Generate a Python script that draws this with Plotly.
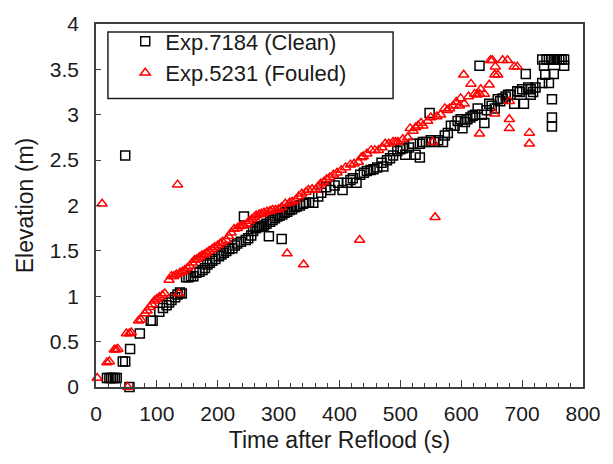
import plotly.graph_objects as go

# Exp.7184 (Clean) - time after reflood (s) and elevation (m)
clean_time = [
    18, 22, 25, 28, 31, 34, 55, 44, 48, 56, 48, 72, 90, 93,
    104, 110, 116, 120, 124, 130, 134, 138, 141,
    148, 152, 156, 160, 165, 170, 175, 179, 183, 187, 191, 196, 202, 206, 210, 214,
    219, 224, 228, 232, 238, 243, 246, 250, 255, 258, 262, 265, 268, 270, 273, 276,
    280, 284, 286, 290, 294, 298, 302, 305, 306, 310, 314, 318, 322, 326, 330, 335,
    340, 345, 350, 357, 365, 370, 378, 385, 392, 398, 405, 412, 418, 422, 428, 434,
    440, 445, 451, 456, 462, 469, 472, 478, 483, 488, 495, 500, 504, 508, 514, 521,
    525, 532, 532, 537, 542, 548, 550, 556, 562, 570, 573, 578, 583, 589, 594, 599,
    602, 606, 610, 615, 619, 623, 627, 630, 634, 638, 642, 646, 650, 655, 660, 664,
    668, 673, 677, 681, 687, 692, 696, 700, 703, 706, 710, 714, 714, 718, 722, 733,
    738, 744, 752, 733, 736, 740, 744, 748, 752, 757, 761, 765, 769, 769, 749, 749, 749,
]
clean_elev = [
    0.10, 0.10, 0.10, 0.10, 0.10, 0.10, 0.00, 0.28, 0.28, 0.42, 2.55, 0.59, 0.73, 0.73,
    0.83, 0.87, 0.90, 0.93, 0.96, 0.99, 1.02, 1.04, 1.03,
    1.21, 1.21, 1.22, 1.22, 1.26, 1.27, 1.29, 1.31, 1.35, 1.37, 1.39, 1.41, 1.44, 1.46, 1.48, 1.50,
    1.52, 1.53, 1.56, 1.58, 1.60, 1.88, 1.62, 1.64, 1.67, 1.72, 1.75, 1.76, 1.77, 1.77, 1.77, 1.78,
    1.80, 1.66, 1.82, 1.84, 1.86, 1.88, 1.89, 1.63, 1.90, 1.92, 1.93, 1.95, 1.96, 1.98, 1.99, 2.00,
    2.02, 2.03, 2.03, 2.03, 2.10, 2.14, 2.20, 2.17, 2.22, 2.25, 2.17, 2.25, 2.28, 2.30, 2.25, 2.34,
    2.36, 2.38, 2.39, 2.40, 2.42, 2.47, 2.43, 2.50, 2.52, 2.55, 2.60, 2.62, 2.63, 2.56, 2.64, 2.68,
    2.56, 2.53, 2.68, 2.70, 2.70, 3.02, 2.72, 2.70, 2.72, 2.70, 2.77, 2.80, 2.88, 2.88, 2.93, 2.95,
    2.85, 2.92, 2.95, 2.97, 2.99, 3.00, 3.07, 3.54, 3.00, 2.91, 3.05, 3.12, 3.10, 3.07, 3.17, 3.15,
    3.18, 3.20, 3.22, 3.22, 3.12, 3.26, 3.25, 3.28, 3.12, 3.45, 3.30, 3.28, 3.22, 3.25, 3.30, 3.35,
    3.44, 3.35, 3.45, 3.61, 3.54, 3.61, 3.61, 3.61, 3.61, 3.61, 3.61, 3.61, 3.61, 3.54, 3.17, 2.97, 2.87,
]

# Exp.5231 (Fouled)
fouled_time = [
    2, 10, 52, 18, 22, 30, 33, 36, 50, 55, 58,
    70, 74, 80, 84, 88, 92, 96, 100, 104, 109, 113, 136,
    120, 124, 128, 132, 134, 138, 142, 146, 150, 154, 158, 162, 166, 170, 174, 178,
    182, 186, 191, 195, 200, 204, 208, 214, 218, 222, 227, 232, 236, 240, 243, 248,
    252, 256, 260, 263, 268, 272, 276, 281, 286, 290, 295, 300, 305, 311, 314, 318,
    322, 328, 333, 338, 341, 345, 349, 355, 361, 365, 369, 374, 379, 384, 390, 396,
    403, 410, 418, 424, 431, 433, 436, 439, 445, 452, 458, 464, 470, 475, 481, 488,
    492, 496, 504, 512, 516, 521, 525, 529, 534, 537, 545, 550, 553, 557, 560, 566,
    573, 577, 581, 587, 592, 597, 599, 604, 605, 612, 616, 622, 626, 630, 630, 632,
    638, 646, 648, 651, 655, 655, 656, 660, 668, 676, 679, 679, 679, 687, 692, 712, 712,
]
fouled_elev = [
    0.10, 2.02, 0.00, 0.27, 0.28, 0.41, 0.41, 0.42, 0.59, 0.59, 0.60,
    0.73, 0.74, 0.81, 0.84, 0.88, 0.91, 0.95, 0.97, 0.99, 1.01, 1.03, 1.03,
    1.18, 1.22, 1.22, 1.24, 2.23, 1.26, 1.27, 1.29, 1.31, 1.33, 1.37, 1.40, 1.41, 1.43, 1.45, 1.46,
    1.48, 1.50, 1.52, 1.54, 1.56, 1.58, 1.60, 1.62, 1.66, 1.70, 1.74, 1.75, 1.77, 1.78, 1.78, 1.80,
    1.83, 1.85, 1.87, 1.89, 1.90, 1.91, 1.92, 1.93, 1.94, 1.95, 1.95, 1.96, 1.98, 2.02, 1.47, 2.03,
    2.04, 2.06, 2.10, 2.13, 1.35, 2.15, 2.17, 2.18, 2.17, 2.21, 2.24, 2.26, 2.29, 2.31, 2.34, 2.36,
    2.39, 2.42, 2.45, 2.46, 2.48, 1.62, 2.53, 2.54, 2.57, 2.61, 2.61, 2.61, 2.64, 2.68, 2.68, 2.70,
    2.70, 2.70, 2.73, 2.75, 2.85, 2.82, 2.86, 2.88, 2.91, 2.88, 2.93, 2.97, 2.70, 1.87, 2.98, 3.00,
    3.07, 3.05, 3.07, 3.10, 3.14, 3.10, 3.18, 3.44, 3.12, 3.20, 3.34, 3.23, 3.22, 3.23, 2.79, 3.28,
    3.23, 3.33, 3.60, 3.60, 3.44, 3.01, 3.53, 3.44, 3.60, 3.60, 3.15, 2.95, 2.85, 3.53, 3.53, 2.80, 2.68,
]

FONT = "Liberation Sans, Arial, sans-serif"
AXIS_COLOR = "#404040"
TEXT_COLOR = "#1a1a1a"

fig = go.Figure()

fig.add_trace(go.Scatter(
    x=clean_time, y=clean_elev, mode="markers", name="Exp.7184 (Clean)",
    marker=dict(symbol="square-open", size=9, color="#000000", line=dict(width=1.5)),
    cliponaxis=False,
))
fig.add_trace(go.Scatter(
    x=fouled_time, y=fouled_elev, mode="markers", name="Exp.5231 (Fouled)",
    marker=dict(symbol="triangle-up-open", size=9, color="#FF0000", line=dict(width=1.5)),
    cliponaxis=False,
))

fig.update_layout(
    width=613, height=464,
    paper_bgcolor="white", plot_bgcolor="white",
    margin=dict(l=96, r=27, t=16, b=77),
    font=dict(family=FONT, size=21, color=TEXT_COLOR),
    showlegend=True,
    legend=dict(
        x=0.06, y=1.01, xanchor="left", yanchor="top",
        borderwidth=0, bgcolor="rgba(0,0,0,0)",
        font=dict(family=FONT, size=22, color=TEXT_COLOR),
        itemwidth=30, tracegroupgap=0,
    ),
    # legend frame drawn as a box so its width matches the original
    shapes=[dict(
        type="rect", xref="paper", yref="paper",
        x0=0.0245, x1=0.61, y0=0.795, y1=0.978,
        line=dict(color="#202020", width=1.5), fillcolor="rgba(0,0,0,0)",
    )],
)

fig.update_xaxes(
    range=[0, 800], dtick=100, tick0=0,
    showline=True, linecolor=AXIS_COLOR, linewidth=1.5, mirror=True,
    ticks="inside", ticklen=7, tickwidth=1.2, tickcolor=AXIS_COLOR,
    minor=dict(dtick=20, ticks="inside", ticklen=4, tickwidth=1.2, tickcolor=AXIS_COLOR),
    showgrid=False, zeroline=False, ticklabelstandoff=7,
    title=dict(text="Time after Reflood (s)", font=dict(size=23), standoff=8),
)
fig.update_yaxes(
    range=[0, 4], dtick=0.5, tick0=0,
    showline=True, linecolor=AXIS_COLOR, linewidth=1.5, mirror=True,
    ticks="inside", ticklen=5, tickwidth=1.2, tickcolor=AXIS_COLOR,
    showgrid=False, zeroline=False, ticklabelstandoff=11,
    title=dict(text="Elevation (m)", font=dict(size=23), standoff=10),
)

fig.write_html(
    "out.html",
    config={"displayModeBar": False},
    post_script="document.body.style.margin = '0';",
)
